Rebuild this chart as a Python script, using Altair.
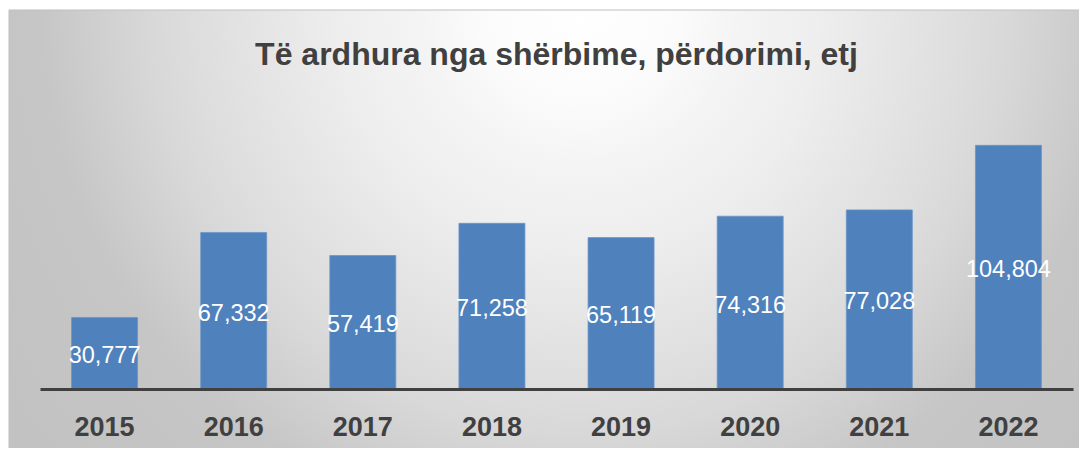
import altair as alt
import pandas as pd

years = ["2015", "2016", "2017", "2018", "2019", "2020", "2021", "2022"]
values = [30777, 67332, 57419, 71258, 65119, 74316, 77028, 104804]
title_text = "Të ardhura nga shërbime, përdorimi, etj"

df = pd.DataFrame({"year": years, "value": values})
one_df = pd.DataFrame({"t": [title_text]})

W, H = 1033, 279

bg = alt.Chart(one_df).mark_rect(
    fill=alt.RadialGradient(
        gradient="radial",
        stops=[
            alt.GradientStop(offset=0.0, color="#ffffff"),
            alt.GradientStop(offset=0.143, color="#fbfbfb"),
            alt.GradientStop(offset=0.229, color="#f4f4f4"),
            alt.GradientStop(offset=0.343, color="#eeeeee"),
            alt.GradientStop(offset=0.443, color="#e6e6e6"),
            alt.GradientStop(offset=0.557, color="#dddddd"),
            alt.GradientStop(offset=0.614, color="#d8d8d8"),
            alt.GradientStop(offset=0.771, color="#c6c6c6"),
            alt.GradientStop(offset=1.0, color="#c2c2c2"),
        ],
        x1=0.519, y1=0.04, r1=0,
        x2=0.519, y2=0.04, r2=0.636,
    ),
    stroke="#bfbfbf",
    strokeWidth=1,
).encode(
    x=alt.value(-31), x2=alt.value(1069),
    y=alt.value(-100), y2=alt.value(900),
)

title = alt.Chart(one_df).mark_text(
    font="Liberation Sans",
    fontSize=32,
    fontWeight="bold",
    color="#404040",
    align="center",
    baseline="alphabetic",
).encode(
    x=alt.value(516.5),
    y=alt.value(-45),
    text="t:N",
)

base = alt.Chart(df)

xenc = alt.X(
    "year:N",
    sort=years,
    scale=alt.Scale(paddingInner=0.489, paddingOuter=0.2445),
    axis=alt.Axis(
        title=None,
        labelAngle=0,
        labelFont="Liberation Sans",
        labelFontWeight="bold",
        labelFontSize=27,
        labelColor="#404040",
        labelPadding=25,
        ticks=False,
        tickSize=0,
        domainColor="#404040",
        domainWidth=3,
        grid=False,
        zindex=1,
    ),
)
yenc = alt.Y("value:Q", scale=alt.Scale(domain=[0, 120000], nice=False), axis=None)

bars = base.mark_bar(color="#4f81bd", stroke="#6a95c9", strokeWidth=0.8).encode(
    x=xenc, y=yenc
)

labels = base.transform_calculate(mid="datum.value / 2").mark_text(
    font="Liberation Sans",
    fontSize=23.5,
    color="#ffffff",
    baseline="middle",
    align="center",
    dy=3,
).encode(
    x=alt.X("year:N", sort=years),
    y=alt.Y("mid:Q"),
    text=alt.Text("value:Q", format=","),
)

chart = alt.layer(bg, title, bars, labels).properties(
    width=W,
    height=H,
    autosize=alt.AutoSizeParams(type="none"),
    padding={"left": 32, "top": 102, "right": 6, "bottom": 59},
).configure_view(strokeWidth=0).configure(background="#ffffff")

chart.save("out.html", embed_options={"renderer": "svg", "actions": False})
